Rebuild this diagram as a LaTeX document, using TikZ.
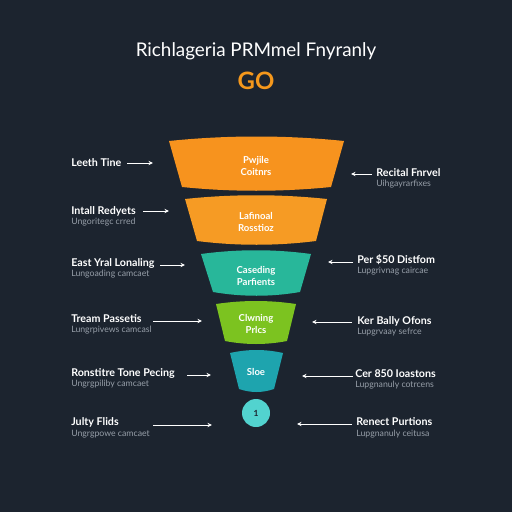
\documentclass[tikz,border=0pt]{standalone}
\usepackage{fontspec}
\setmainfont{Lato}
\usepackage{tikz}
\usetikzlibrary{arrows.meta, positioning, calc}
\definecolor{bgnavy}{RGB}{28, 36, 47}
\definecolor{goorange}{RGB}{245, 152, 28}
\definecolor{segorangeA}{RGB}{247, 147, 30}
\definecolor{segorangeB}{RGB}{246, 155, 36}
\definecolor{segteal}{RGB}{40, 183, 154}
\definecolor{seglime}{RGB}{124, 195, 32}
\definecolor{segblue}{RGB}{30, 164, 174}
\definecolor{segcyan}{RGB}{82, 211, 207}
\definecolor{subgray}{RGB}{150, 158, 168}

\begin{document}
\begin{tikzpicture}[
  x=0.025cm, y=-0.025cm,
  lbl/.style={font=\fontsize{7.6}{9}\selectfont\bfseries, text=white, inner sep=0pt},
  sublbl/.style={font=\fontsize{6.2}{7.4}\selectfont, text=subgray, inner sep=0pt},
  seglbl/.style={font=\fontsize{6.8}{8.6}\selectfont\bfseries, text=white, align=center, inner sep=0pt},
  pointer/.style={draw=white, line width=0.6pt, -{Stealth[length=3.2pt, width=3pt]}}
]
  % background
  \fill[bgnavy] (0,0) rectangle (512,512);
  \useasboundingbox (0,0) rectangle (512,512);

  % title
  \node[font=\fontsize{13.4}{15}\selectfont, text=white] (title) at (256,51) {Richlageria PRMmel Fnyranly};
  \node[font=\fontsize{17}{19}\selectfont\bfseries, text=goorange] (go) at (256,81) {GO};

  % funnel segments
  \fill[segorangeA] (169,141) .. controls (227,135) and (286,135) .. (344,141)
    -- (331,187) .. controls (281,192) and (231,192) .. (182,187) -- cycle;
  \fill[segorangeB] (185,199) .. controls (232,194) and (280,194) .. (327,199)
    -- (316,241) .. controls (276,246) and (237,246) .. (197,241) -- cycle;
  \fill[segteal] (201,254) .. controls (238,249) and (274,249) .. (311,254)
    -- (300,292) .. controls (271,297) and (242,297) .. (213,292) -- cycle;
  \fill[seglime] (216,304) .. controls (243,300) and (269,300) .. (296,304)
    -- (287,341) .. controls (266,345) and (246,345) .. (225,341) -- cycle;
  \fill[segblue] (230,353) .. controls (248,349) and (265,349) .. (283,353)
    -- (274,389) .. controls (262,393) and (251,393) .. (239,389) -- cycle;
  \fill[segcyan] (256,413) circle (14);

  \node[seglbl] (s1) at (256,166) {Pwjile\\Coitnrs};
  \node[seglbl] (s2) at (256,222) {Lafinoal\\Rosstioz};
  \node[seglbl] (s3) at (256,276) {Caseding\\Parfients};
  \node[seglbl] (s4) at (256,324) {Clwning\\Prlcs};
  \node[seglbl] (s5) at (256,372) {Sloe};
  \node[font=\fontsize{6}{7}\selectfont\bfseries, text=bgnavy] (s6) at (256,413) {1};

  % left labels
  \node[lbl, anchor=west] (l1) at (71,163) {Leeth Tine};
  \node[lbl, anchor=west] (l2) at (71,211) {Intall Redyets};
  \node[sublbl, anchor=west] (l2s) at (71,222) {Ungoritegc crred};
  \node[lbl, anchor=west] (l3) at (71,263) {East Yral Lonaling};
  \node[sublbl, anchor=west] (l3s) at (71,274) {Lungoading camcaet};
  \node[lbl, anchor=west] (l4) at (71,319) {Tream Passetis};
  \node[sublbl, anchor=west] (l4s) at (71,330) {Lungrpivews camcasl};
  \node[lbl, anchor=west] (l5) at (71,373) {Ronstitre Tone Pecing};
  \node[sublbl, anchor=west] (l5s) at (71,384) {Ungrgpiliby camcaet};
  \node[lbl, anchor=west] (l6) at (71,422) {Julty Flids};
  \node[sublbl, anchor=west] (l6s) at (71,434) {Ungrgpowe camcaet};

  % right labels
  \node[lbl, anchor=west] (r1) at (376,173) {Recital Fnrvel};
  \node[sublbl, anchor=west] (r1s) at (376,184) {Uihgayrarfixes};
  \node[lbl, anchor=west] (r2) at (357,260) {Per \$50 Distfom};
  \node[sublbl, anchor=west] (r2s) at (357,271) {Lupgrivnag caircae};
  \node[lbl, anchor=west] (r3) at (357,321) {Ker Bally Ofons};
  \node[sublbl, anchor=west] (r3s) at (357,332) {Lupgrvaay sefrce};
  \node[lbl, anchor=west] (r4) at (355,374) {Cer 850 Ioastons};
  \node[sublbl, anchor=west] (r4s) at (355,385) {Lupgnanuly cotrcens};
  \node[lbl, anchor=west] (r5) at (356,422) {Renect Purtions};
  \node[sublbl, anchor=west] (r5s) at (356,434) {Lupgnanuly ceitusa};

  % arrow ends
  \coordinate (la1) at (127,163); \coordinate (lb1) at (153,163);
  \coordinate (la2) at (143,211); \coordinate (lb2) at (169,211);
  \coordinate (la3) at (160,265); \coordinate (lb3) at (185,265);
  \coordinate (la4) at (153,321); \coordinate (lb4) at (202,321);
  \coordinate (la5) at (187,375); \coordinate (lb5) at (211,375);
  \coordinate (la6) at (153,425); \coordinate (lb6) at (212,425);
  \coordinate (ra1) at (372,174); \coordinate (rb1) at (351,174);
  \coordinate (ra2) at (353,262); \coordinate (rb2) at (328,262);
  \coordinate (ra3) at (352,322); \coordinate (rb3) at (312,322);
  \coordinate (ra4) at (353,376); \coordinate (rb4) at (302,376);
  \coordinate (ra5) at (352,424); \coordinate (rb5) at (297,424);

  \foreach \i in {1,...,6} {
    \draw[pointer] (la\i) -- (lb\i);
  }
  \foreach \i in {1,...,5} {
    \draw[pointer] (ra\i) -- (rb\i);
  }
\end{tikzpicture}
\end{document}
